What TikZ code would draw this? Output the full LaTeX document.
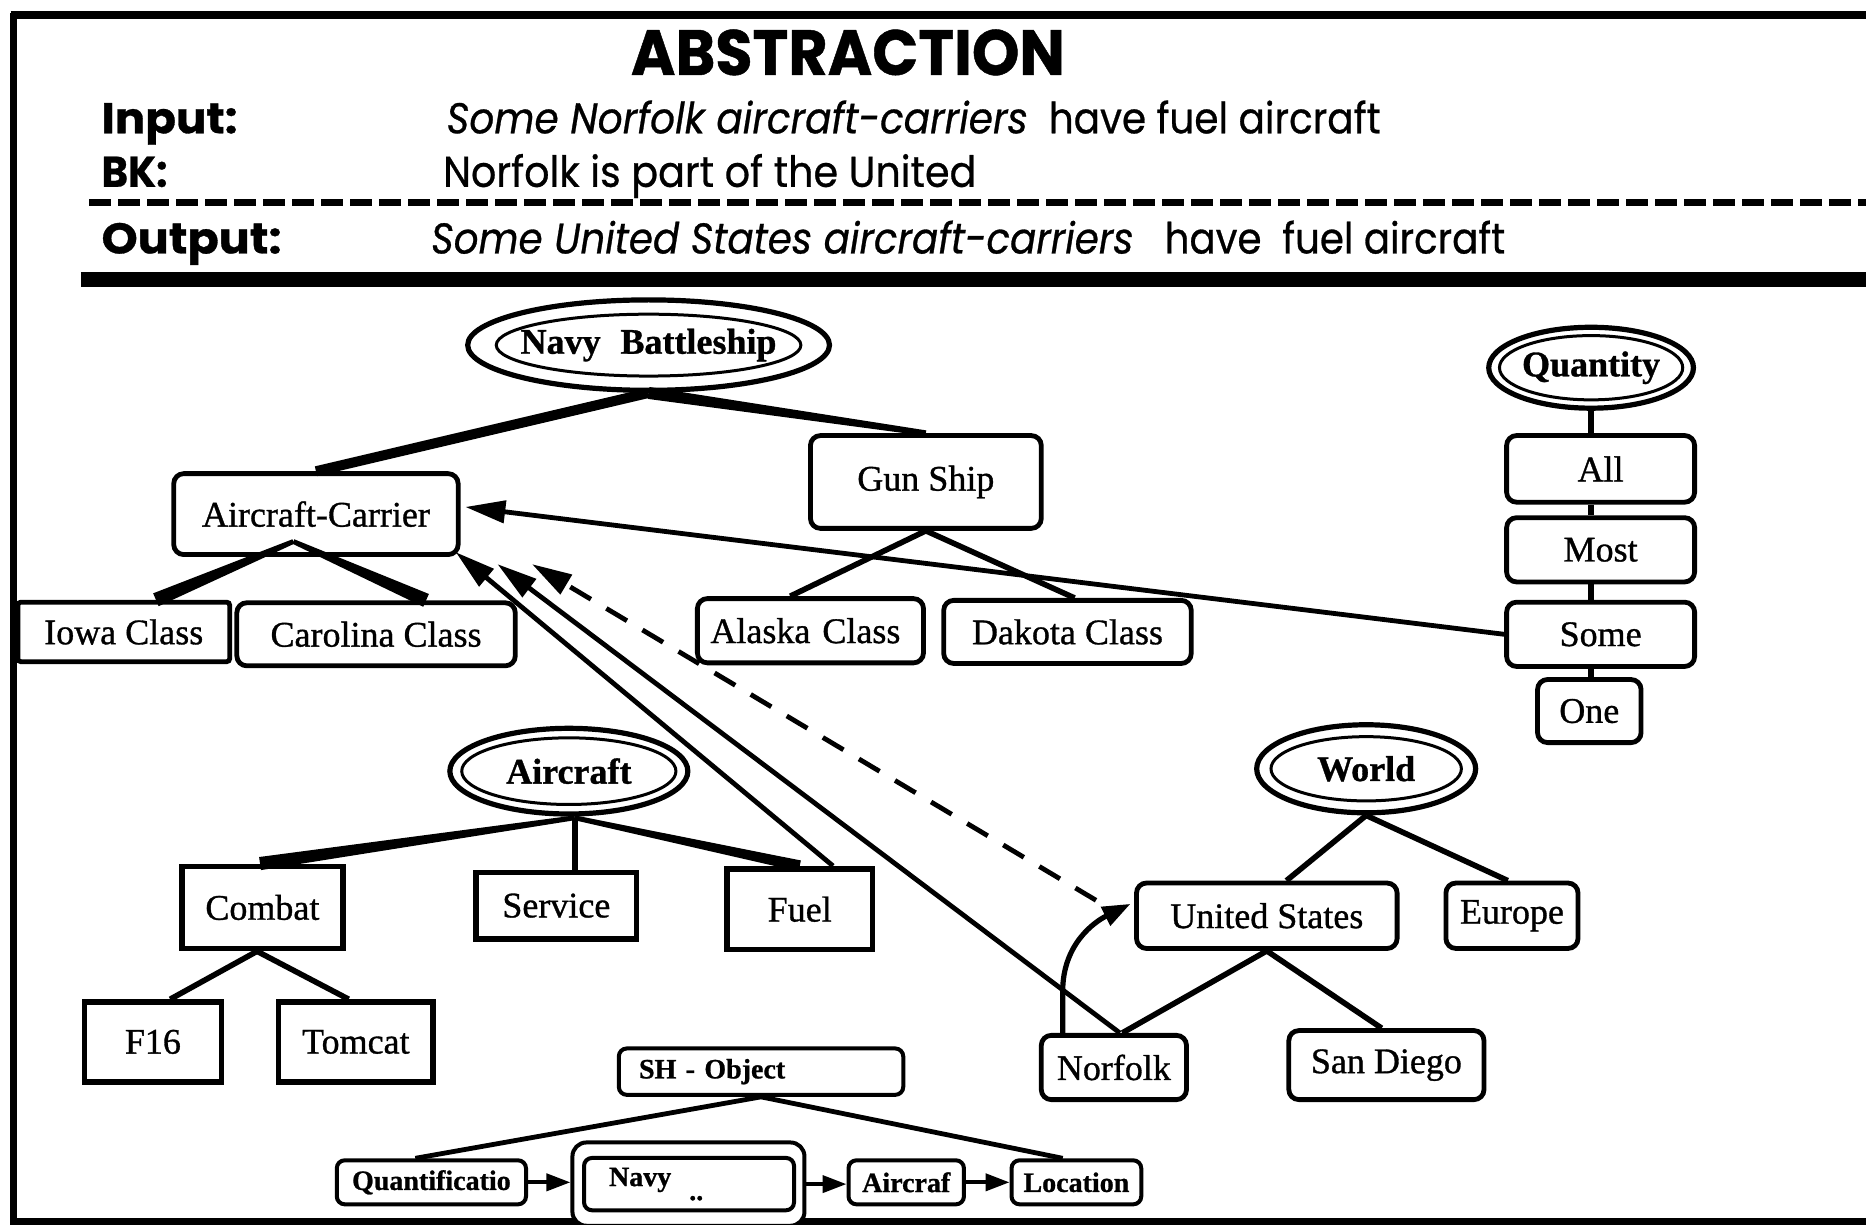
\documentclass[tikz,border=0pt]{standalone}
\usepackage{fontspec}
\usepackage{graphicx}
\usetikzlibrary{shapes.geometric,arrows.meta,calc}
\newfontfamily\hdrfont[FakeBold=0.7]{Poppins}
\newfontfamily\lblfont[FakeBold=0.9]{Liberation Serif}
% filled wedge between two points, half widths #3 (at #1) and #4 (at #2)
\newcommand\taper[4]{\fill ($#1!#3!90:#2$) -- ($#2!#4!-90:#1$) -- ($#2!#4!90:#1$) -- ($#1!#3!-90:#2$) -- cycle;}
\tikzset{
  sz/.style 2 args={minimum width={#1*0.595pt}, minimum height={#2*0.595pt}},
  lbl/.style={font=\lblfont\fontsize{18}{20}\selectfont},
  boldlbl/.style={font=\lblfont\bfseries\fontsize{18}{20}\selectfont},
  rbox/.style={draw, line width=2.4pt, rounded corners=5pt, fill=white, inner sep=0pt, lbl},
  sbox/.style={draw, line width=2.8pt, fill=white, inner sep=0pt, lbl},
  ovalnode/.style={ellipse, draw, line width=2.6pt, fill=white, inner sep=0pt, boldlbl},
  tbox/.style={draw, line width=2pt, rounded corners=4pt, fill=white, inner sep=0pt, font=\lblfont\bfseries\fontsize{14}{16}\selectfont},
  hdr/.style={inner sep=0pt, anchor=base west, font=\hdrfont\fontsize{21.5}{24}\selectfont},
  hdrb/.style={hdr, font=\hdrfont\bfseries\fontsize{21.5}{24}\selectfont},
  treeline/.style={line width=2.8pt},
  arr/.style={line width=2.4pt, -{Triangle[length=20pt,width=11pt]}},
  sarr/.style={line width=2pt, -{Triangle[length=12pt,width=8.5pt]}},
}
\begin{document}
\begin{tikzpicture}[x=0.595pt, y=-0.595pt]
\useasboundingbox (0,0) rectangle (1568,1029);
% outer frame
\draw[line width=4pt] (9,12.6) -- (1568,12.6);
\draw[line width=3.3pt] (11.2,10.6) -- (11.2,1029);
\draw[line width=3.5pt] (9.5,1026) -- (1568,1026);

% heading block
\node[hdr, anchor=base, font=\hdrfont\bfseries\fontsize{32}{34}\selectfont] (title) at (712.5,63) {\resizebox{217pt}{\height}{ABSTRACTION}};
\node[hdrb] (inl) at (85,112) {\resizebox{68pt}{\height}{Input:}};
\node[hdr] (inv) at (375,112) {\resizebox{467pt}{\height}{\itshape Some Norfolk aircraft-carriers\upshape\ \ have fuel aircraft}};
\node[hdrb] (bkl) at (85,157) {\resizebox{33pt}{\height}{BK:}};
\node[hdr] (bkv) at (372,157) {\resizebox{266.6pt}{\height}{Norfolk is part of the United}};
\draw[line width=3.3pt, dash pattern=on 11pt off 3.5pt] (75,170) -- (1568,170);
\node[hdrb] (outl) at (85,213) {\resizebox{90pt}{\height}{Output:}};
\node[hdr] (outv) at (362,213) {\resizebox{537pt}{\height}{\itshape Some United States aircraft-carriers\upshape\ \ \ have\ \ fuel aircraft}};
\draw[line width=7.5pt] (68,234.7) -- (1568,234.7);

% class hierarchies: ellipses
\node[ovalnode, sz={286}{76}] (nb) at (545,290) {Navy\hspace{0.3em} Battleship};
\draw[line width=1.5pt] (nb.center) ellipse [x radius=128, y radius=26];
\node[ovalnode, sz={172}{68}] (qty) at (1337,309) {Quantity};
\draw[line width=1.5pt] (qty.center) ellipse [x radius=77, y radius=27];
\node[ovalnode, sz={200}{72}] (air) at (478,648) {Aircraft};
\draw[line width=1.5pt] (air.center) ellipse [x radius=90, y radius=28];
\node[ovalnode, sz={184}{74}] (wld) at (1148,646) {World};
\draw[line width=1.5pt] (wld.center) ellipse [x radius=80, y radius=27];

% ships
\node[rbox, sz={239}{68}] (ac) at (265.5,432) {Aircraft-Carrier};
\node[rbox, sz={194}{78}] (gs) at (778,405) {Gun Ship};
\node[rbox, rounded corners=1.5pt, sz={178}{50}] (iowa) at (104,531) {Iowa Class};
\node[rbox, sz={234}{53}] (car) at (316,533) {Carolina Class};
\node[rbox, sz={190}{54}, inner xsep=6.5pt, text width=100pt, align=left] (ala) at (681,530) {Alaska Class};
\node[rbox, sz={208}{53}] (dak) at (897,531) {Dakota Class};

% quantities
\node[rbox, sz={158}{56}] (all) at (1345,394) {All};
\node[rbox, sz={158}{54}] (most) at (1345,462) {Most};
\node[rbox, sz={158}{54}] (some) at (1345,533) {Some};
\node[rbox, sz={87}{53}] (one) at (1335.5,597.5) {One};

% aircraft
\node[sbox, sz={135}{69}] (com) at (220.5,762.5) {Combat};
\node[sbox, sz={135}{56}] (srv) at (467.5,761) {Service};
\node[sbox, sz={122}{68}] (fuel) at (672,764) {Fuel};
\node[sbox, sz={115}{67}] (f16) at (128.5,875.5) {F16};
\node[sbox, sz={130}{67}] (tom) at (299,875.5) {Tomcat};

% places
\node[rbox, sz={219}{55}] (us) at (1064.5,769.5) {United States};
\node[rbox, sz={111}{55}] (eur) at (1270.5,769.5) {Europe};
\node[rbox, sz={122}{54}] (nf) at (936,897) {Norfolk};
\node[rbox, sz={164}{58}] (sd) at (1165,895) {San Diego};

% object schema
\node[tbox, sz={239}{39}, inner xsep=10pt, text width=122pt, align=left] (sho) at (639.5,900.5) {SH - Object};
\node[tbox, sz={159}{37}] (qnt) at (362.5,993.5) {Quantificatio};
\node[tbox, rounded corners=7pt, sz={195}{70}] (nvo) at (578.5,995) {};
\node[tbox, sz={176}{44}, inner xsep=12.5pt, text width=80pt, align=left] (nvi) at (579,995) {\raisebox{4pt}{Navy}\hspace{9pt}\raisebox{-3pt}{..}};
\node[tbox, sz={97}{37}] (acf) at (761.5,993.5) {Aircraf};
\node[tbox, sz={109}{37}] (loc) at (904.5,993.5) {Location};

% helper points on node borders
\coordinate (acb) at ($(ac.south)+(-19,-13)$);
\coordinate (iowat) at ($(iowa.north)+(27,0)$);
\coordinate (cart) at ($(car.north)+(42,0)$);
\coordinate (airb) at ($(air.south)+(5,1)$);
\coordinate (comt) at ($(com.north)+(-2,0)$);
\coordinate (fuelt) at ($(fuel.north)+(0,0)$);

% tapered links
\taper{(nb.south)}{(ac.north)}{2.5pt}{2.5pt}
\taper{(nb.south)}{(gs.north)}{3pt}{1.4pt}
\taper{(acb)}{(iowat)}{1.2pt}{3.5pt}
\taper{(acb)}{(cart)}{1.2pt}{3.5pt}
\taper{(airb)}{(comt)}{1.2pt}{3.3pt}
\taper{(airb)}{(fuelt)}{1.2pt}{2.8pt}

% plain links
\draw[treeline] (gs.south) -- ($(ala.north)+(-17,0)$);
\draw[treeline] (gs.south) -- ($(dak.north)+(6,0)$);
\draw[treeline, line width=3.2pt] (airb) -- ($(srv.north)+(15.5,0)$);
\draw[treeline] ($(com.south)+(-4.5,0)$) -- ($(f16.north)+(14.5,0)$);
\draw[treeline] ($(com.south)+(-4.5,0)$) -- ($(tom.north)+(-6,0)$);
\draw[treeline] (wld.south) -- ($(us.north)+(16.5,0)$);
\draw[treeline] (wld.south) -- ($(eur.north)+(-3.5,0)$);
\draw[treeline] (us.south) -- ($(nf.north)+(7,0)$);
\draw[treeline] (us.south) -- ($(sd.north)+(-4,0)$);
\draw[treeline] (qty.south) -- (all.north -| qty.south);
\draw[treeline] (all.south -| qty.south) -- (most.north -| qty.south);
\draw[treeline] (most.south -| qty.south) -- (some.north -| qty.south);
\draw[treeline] (some.south -| qty.south) -- (one.north -| qty.south);
\draw[line width=2.4pt] (sho.south) -- ($(qnt.north)+(-13.5,0)$);
\draw[line width=2.4pt] (sho.south) -- ($(loc.north)+(-11.5,0)$);

% schema order
\draw[sarr] (qnt.east) -- (qnt.east -| nvo.west);
\draw[sarr] (nvo.east) -- (nvo.east -| acf.west);
\draw[sarr] (acf.east) -- (loc.west);

% abstraction links
\draw[arr] (some.west) -- ($(ac.east)+(4,-6)$);
\draw[arr] ($(fuel.north)+(28,0)$) -- ($(ac.south east)+(-4,-4)$);
\draw[arr] ($(nf.north)+(5,0)$) -- ($(ac.south east)+(31,6)$);
\draw[arr, dash pattern=on 12pt off 9pt] ($(us.west)+(-32,-13)$) -- ($(ac.south east)+(60,6)$);
\draw[line width=2.6pt, -{Triangle[length=14pt,width=10pt]}] ($(nf.north west)+(20,0)$) -- ++(0,-35) .. controls +(0,-40) and +(-30,15) .. ($(us.west)+(-3,-10)$);
\end{tikzpicture}
\end{document}
